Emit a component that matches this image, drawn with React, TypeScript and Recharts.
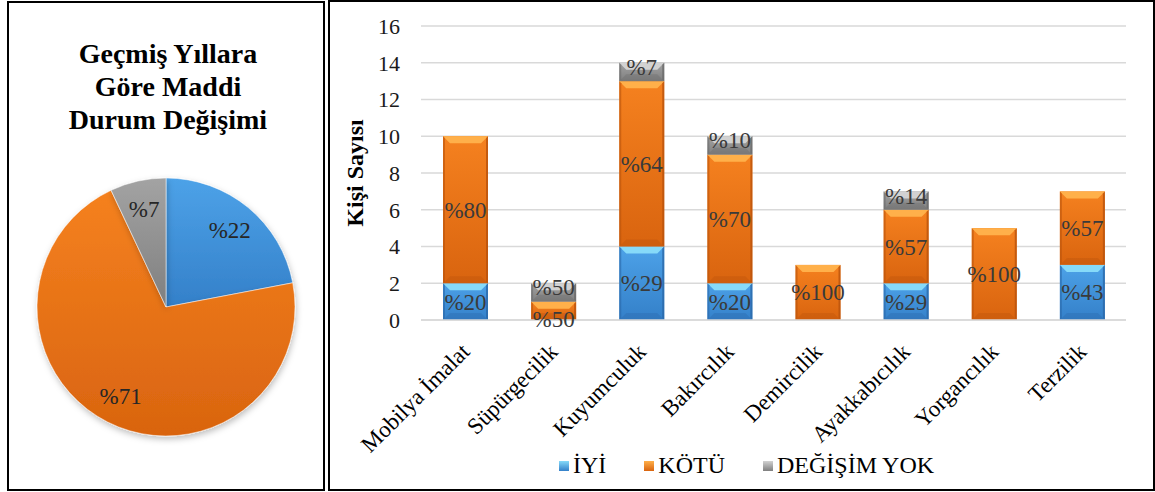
import React from 'react';
import { BarChart, Bar, XAxis, YAxis, CartesianGrid, LabelList, PieChart, Pie, Cell } from 'recharts';

// bar chart: people per craft, stacked by change in financial situation
const categories = ['Mobilya İmalat', 'Süpürgecilik', 'Kuyumculuk', 'Bakırcılık', 'Demircilik', 'Ayakkabıcılık', 'Yorgancılık', 'Terzilik'];
const iyi = [2, 0, 4, 2, 0, 2, 0, 3];
const kotu = [8, 1, 9, 7, 3, 4, 5, 4];
const degisimYok = [0, 1, 1, 1, 0, 1, 0, 0];
const iyiPct = ['%20', '', '%29', '%20', '', '%29', '', '%43'];
const kotuPct = ['%80', '%50', '%64', '%70', '%100', '%57', '%100', '%57'];
const degisimYokPct = ['', '%50', '%7', '%10', '', '%14', '', ''];
const yTicks = [0, 2, 4, 6, 8, 10, 12, 14, 16];

// pie: overall share
const pieNames = ['İYİ', 'KÖTÜ', 'DEĞİŞİM YOK'];
const pieValues = [22, 71, 7];
const pieLabels = ['%22', '%71', '%7'];

const seriesNames = ['İYİ', 'KÖTÜ', 'DEĞİŞİM YOK'];

const FONT = '"Liberation Serif", "Times New Roman", serif';

const colors = [
  { id: 'blue', top: '#4da2e8', bottom: '#3480c9', bevel: '#86daf9', edge: '#2a68a8' },
  { id: 'orange', top: '#f5811f', bottom: '#d9640f', bevel: '#ffb04a', edge: '#b9530c' },
  { id: 'gray', top: '#a3a3a3', bottom: '#7f7f7f', bevel: '#d2d2d2', edge: '#6a6a6a' },
];

const barData = categories.map((name, i) => ({
  name,
  iyi: iyi[i],
  kotu: kotu[i],
  dy: degisimYok[i],
  iyiPct: iyiPct[i],
  kotuPct: kotuPct[i],
  dyPct: degisimYokPct[i],
}));

const pieData = pieNames.map((name, i) => ({ name, value: pieValues[i], label: pieLabels[i] }));

const makeShape = (c: typeof colors[number]) => (props: any) => {
  const { x, y, width: w, height: h } = props;
  if (!h || h <= 0) return null;
  const b = Math.min(7, h / 2);
  return (
    <g>
      <rect x={x} y={y} width={w} height={h} fill={`url(#grad-${c.id})`} />
      <polygon points={`${x},${y} ${x + w},${y} ${x + w - b},${y + b} ${x + b},${y + b}`} fill={c.bevel} />
      <polygon points={`${x},${y + h} ${x + w},${y + h} ${x + w - b},${y + h - b} ${x + b},${y + h - b}`} fill={c.edge} opacity={0.35} />
      <polygon points={`${x},${y} ${x + 2},${y + 2} ${x + 2},${y + h - 2} ${x},${y + h}`} fill={c.edge} opacity={0.6} />
      <polygon points={`${x + w},${y} ${x + w - 2},${y + 2} ${x + w - 2},${y + h - 2} ${x + w},${y + h}`} fill={c.edge} opacity={0.8} />
    </g>
  );
};

const makeLabel = (nudge: number) => (props: any) => {
  const { x, y, width, height, value } = props;
  if (!value) return null;
  const shift = height < 24 ? nudge : 0;
  return (
    <text
      x={x + width / 2}
      y={y + height / 2 + shift}
      dy="0.35em"
      textAnchor="middle"
      fill="#3a3a3a"
      fontFamily={FONT}
      fontSize={23}
    >
      {value}
    </text>
  );
};

const XTick = (props: any) => {
  const { x, y, payload } = props;
  return (
    <g transform={`translate(${x + 6},${y + 33})`}>
      <text textAnchor="end" transform="rotate(-45)" fill="#000" fontFamily={FONT} fontSize={23}>
        {payload.value}
      </text>
    </g>
  );
};

const PieLabel = (props: any) => {
  const { cx, cy, midAngle, index } = props;
  const r = 100;
  const rad = Math.PI / 180;
  const lx = cx + r * Math.cos(-midAngle * rad);
  const ly = cy + r * Math.sin(-midAngle * rad);
  return (
    <text x={lx} y={ly} dy="0.35em" textAnchor="middle" fill="#262626" fontFamily={FONT} fontSize={23}>
      {pieData[index].label}
    </text>
  );
};

export default function App() {
  return (
    <div style={{ position: 'fixed', left: 0, top: 0, width: 1155, height: 492, overflow: 'hidden', background: '#fff', fontFamily: FONT }}>
      {/* left panel */}
      <div style={{ position: 'absolute', left: 7, top: 1, width: 314, height: 486, border: '2px solid #000' }} />
      <div style={{ position: 'absolute', left: 18, top: 37, width: 300, textAlign: 'center', fontWeight: 'bold', fontSize: 28, lineHeight: '33px', color: '#000' }}>
        Geçmiş Yıllara<br />Göre Maddi<br />Durum Değişimi
      </div>
      <div style={{ position: 'absolute', left: 0, top: 0 }}>
        <PieChart width={330} height={492} margin={{ top: 0, right: 0, bottom: 0, left: 0 }}>
          <defs>
            {colors.map((c) => (
              <linearGradient key={c.id} id={`pie-${c.id}`} x1="0" y1="0" x2="0" y2="1">
                <stop offset="0%" stopColor={c.top} />
                <stop offset="100%" stopColor={c.bottom} />
              </linearGradient>
            ))}
            <filter id="pieShadow" x="-20%" y="-20%" width="140%" height="140%">
              <feDropShadow dx="1" dy="3" stdDeviation="3" floodColor="#000" floodOpacity="0.25" />
            </filter>
          </defs>
          <Pie
            data={pieData}
            dataKey="value"
            cx={166}
            cy={307}
            outerRadius={129}
            startAngle={90}
            endAngle={-270}
            stroke="#ffffff"
            strokeWidth={0.5}
            label={PieLabel}
            labelLine={false}
            isAnimationActive={false}
            style={{ filter: 'url(#pieShadow)' }}
          >
            {pieData.map((d, i) => (
              <Cell key={d.name} fill={`url(#pie-${colors[i].id})`} />
            ))}
          </Pie>
        </PieChart>
      </div>

      {/* right panel */}
      <div style={{ position: 'absolute', left: 328, top: 0, width: 823, height: 487, border: '2px solid #000' }} />
      <div style={{ position: 'absolute', left: 0, top: 0 }}>
        <BarChart width={1155} height={492} data={barData} margin={{ top: 26, right: 29, bottom: 0, left: 361 }} barSize={45}>
          <defs>
            {colors.map((c) => (
              <linearGradient key={c.id} id={`grad-${c.id}`} x1="0" y1="0" x2="0" y2="1">
                <stop offset="0%" stopColor={c.top} />
                <stop offset="100%" stopColor={c.bottom} />
              </linearGradient>
            ))}
          </defs>
          <CartesianGrid vertical={false} stroke="#d9d9d9" strokeWidth={1.6} />
          <XAxis dataKey="name" interval={0} tick={XTick} tickLine={false} axisLine={{ stroke: '#d9d9d9', strokeWidth: 1.6 }} tickSize={0} tickMargin={0} height={172} />
          <YAxis
            domain={[0, 16]}
            ticks={yTicks}
            interval={0}
            width={60}
            axisLine={false}
            tickLine={false}
            tickSize={0}
            tickMargin={21}
            tick={{ fill: '#1a1a1a', fontFamily: FONT, fontSize: 22 }}
          />
          <Bar dataKey="iyi" stackId="a" name={seriesNames[0]} shape={makeShape(colors[0])} isAnimationActive={false}>
            <LabelList dataKey="iyiPct" content={makeLabel(0)} />
          </Bar>
          <Bar dataKey="kotu" stackId="a" name={seriesNames[1]} shape={makeShape(colors[1])} isAnimationActive={false}>
            <LabelList dataKey="kotuPct" content={makeLabel(8)} />
          </Bar>
          <Bar dataKey="dy" stackId="a" name={seriesNames[2]} shape={makeShape(colors[2])} isAnimationActive={false}>
            <LabelList dataKey="dyPct" content={makeLabel(-5)} />
          </Bar>
        </BarChart>
      </div>

      {/* y axis title */}
      <div style={{ position: 'absolute', left: 355, top: 173, transform: 'translate(-50%, -50%) rotate(-90deg)', fontWeight: 'bold', fontSize: 24, whiteSpace: 'nowrap', color: '#000' }}>
        Kişi Sayısı
      </div>

      {/* legend */}
      <div style={{ position: 'absolute', left: 559, top: 452, display: 'flex', alignItems: 'center', fontSize: 24, color: '#000', whiteSpace: 'nowrap' }}>
        {seriesNames.map((n, i) => (
          <div key={n} style={{ display: 'flex', alignItems: 'center', marginRight: i < 2 ? 38 : 0 }}>
            <span style={{ display: 'inline-block', width: 10, height: 10, marginRight: 4, background: `linear-gradient(${colors[i].bevel}, ${colors[i].bottom})` }} />
            <span>{n}</span>
          </div>
        ))}
      </div>
    </div>
  );
}
